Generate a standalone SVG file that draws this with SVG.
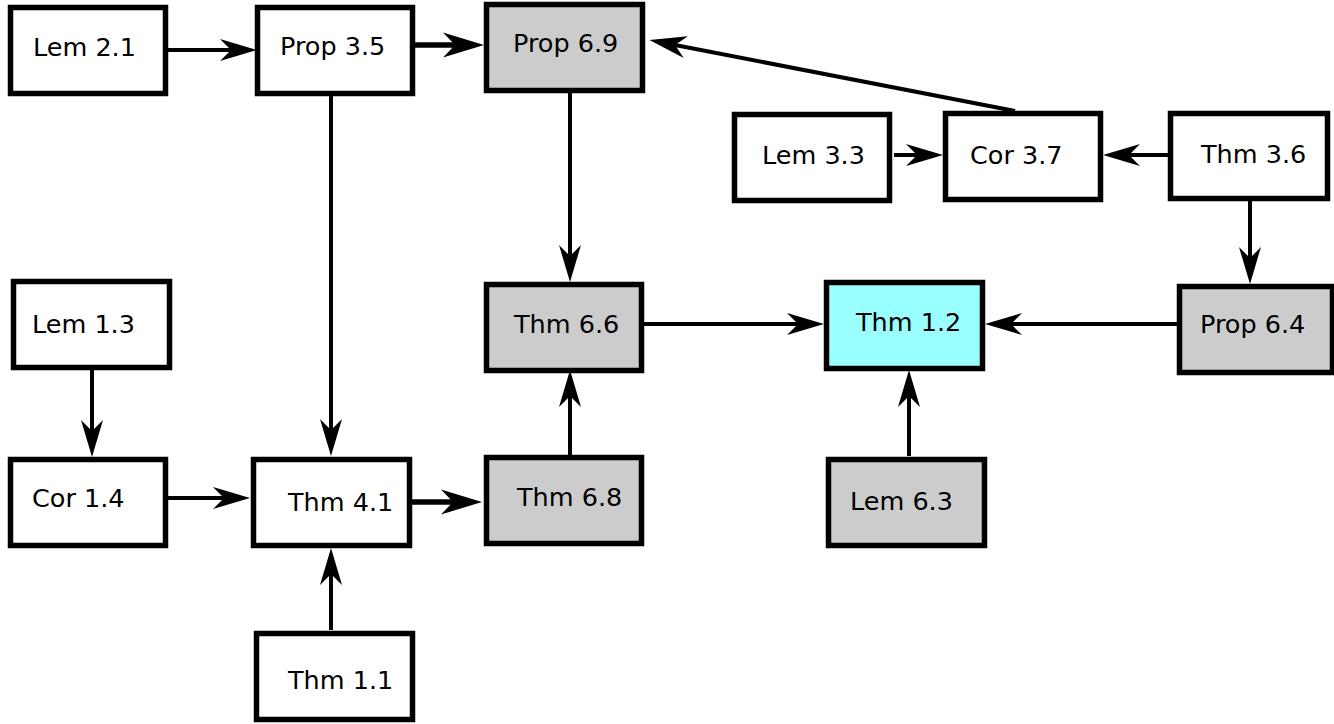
<svg xmlns="http://www.w3.org/2000/svg" width="1334" height="724" viewBox="0 0 1334 724">
<defs>
<style>
.box{stroke:#000;stroke-width:5.5;fill:#fff}
.gray{fill:#ccc}
.cyan{fill:#9ff}
.lbl{font-family:"DejaVu Sans",sans-serif;font-size:25.5px;fill:#000}
.edge{stroke:#000;stroke-width:4;fill:none;marker-end:url(#ah)}
.thick{stroke-width:5.5;marker-end:url(#ahL)}
</style>
<marker id="ah" markerUnits="userSpaceOnUse" viewBox="-12 -12 40 24" markerWidth="40" markerHeight="24" refX="0" refY="0" orient="auto" overflow="visible">
<path d="M26,0 L-11,-11 L0,0 L-11,11 Z" fill="#000"/>
</marker>
<marker id="ahL" markerUnits="userSpaceOnUse" viewBox="-14 -14 46 28" markerWidth="46" markerHeight="28" refX="0" refY="0" orient="auto" overflow="visible">
<path d="M29,0 L-12,-12.5 L0,0 L-12,12.5 Z" fill="#000"/>
</marker>
</defs>
<g id="connectors">
<line class="edge" x1="166" y1="50" x2="231" y2="50"/>
<line class="edge thick" x1="414" y1="45" x2="455" y2="45"/>
<line class="edge" x1="1015" y1="111" x2="675" y2="45"/>
<line class="edge" x1="894" y1="155" x2="917" y2="155"/>
<line class="edge" x1="1168" y1="155" x2="1129" y2="155"/>
<line class="edge" x1="1250" y1="198" x2="1250" y2="258"/>
<line class="edge" x1="570" y1="91" x2="570" y2="256"/>
<line class="edge" x1="331" y1="94" x2="331" y2="430"/>
<line class="edge" x1="92" y1="369" x2="92" y2="431"/>
<line class="edge" x1="166" y1="498" x2="224" y2="498"/>
<line class="edge thick" x1="411" y1="502" x2="453" y2="502"/>
<line class="edge" x1="570" y1="455" x2="570" y2="396"/>
<line class="edge" x1="643" y1="324" x2="798" y2="324"/>
<line class="edge" x1="1178" y1="324" x2="1011" y2="324"/>
<line class="edge" x1="909" y1="456" x2="909" y2="396"/>
<line class="edge" x1="331" y1="630" x2="331" y2="574"/>
</g>
<g id="lem21"><rect class="box" x="10.5" y="7.5" width="155" height="86"/><text class="lbl" x="33" y="56">Lem 2.1</text></g>
<g id="prop35"><rect class="box" x="257.5" y="7.5" width="155" height="86"/><text class="lbl" x="280" y="55">Prop 3.5</text></g>
<g id="prop69"><rect class="box gray" x="486.5" y="4.5" width="156" height="86"/><text class="lbl" x="513" y="52">Prop 6.9</text></g>
<g id="lem33"><rect class="box" x="734.5" y="114.5" width="155" height="86"/><text class="lbl" x="762" y="164">Lem 3.3</text></g>
<g id="cor37"><rect class="box" x="945.5" y="113.5" width="155" height="86"/><text class="lbl" x="970" y="164">Cor 3.7</text></g>
<g id="thm36"><rect class="box" x="1170.5" y="113.5" width="157" height="85"/><text class="lbl" x="1201" y="163">Thm 3.6</text></g>
<g id="lem13"><rect class="box" x="13.5" y="281.5" width="156" height="86"/><text class="lbl" x="32" y="333">Lem 1.3</text></g>
<g id="thm66"><rect class="box gray" x="486.5" y="284.5" width="155" height="86"/><text class="lbl" x="514" y="333">Thm 6.6</text></g>
<g id="thm12"><rect class="box cyan" x="826.5" y="282.5" width="156" height="86"/><text class="lbl" x="856" y="331">Thm 1.2</text></g>
<g id="prop64"><rect class="box gray" x="1179.5" y="286.5" width="153" height="86"/><text class="lbl" x="1200" y="333">Prop 6.4</text></g>
<g id="cor14"><rect class="box" x="10.5" y="459.5" width="155" height="86"/><text class="lbl" x="32" y="507">Cor 1.4</text></g>
<g id="thm41"><rect class="box" x="253.5" y="459.5" width="156" height="86"/><text class="lbl" x="288" y="511">Thm 4.1</text></g>
<g id="thm68"><rect class="box gray" x="486.5" y="457.5" width="155" height="86"/><text class="lbl" x="517" y="506">Thm 6.8</text></g>
<g id="lem63"><rect class="box gray" x="828.5" y="459.5" width="156" height="86"/><text class="lbl" x="850" y="510">Lem 6.3</text></g>
<g id="thm11"><rect class="box" x="256.5" y="633.5" width="156" height="86"/><text class="lbl" x="288" y="689">Thm 1.1</text></g>
</svg>
